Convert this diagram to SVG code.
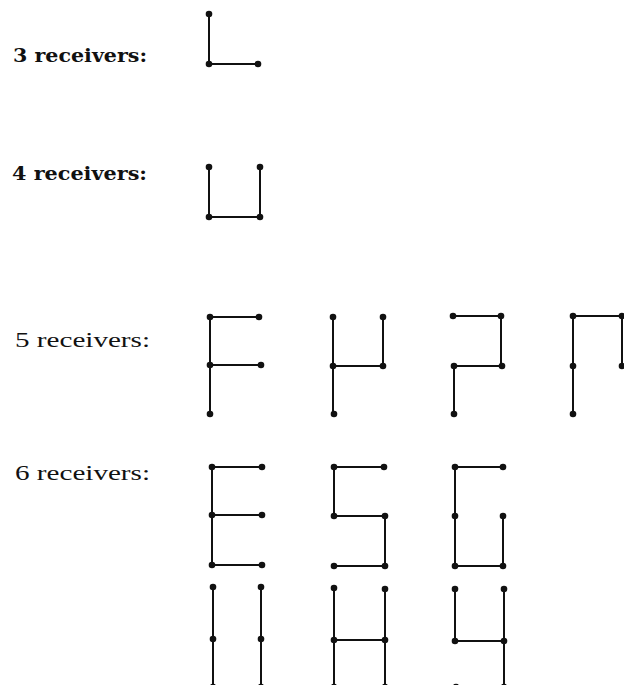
<svg xmlns="http://www.w3.org/2000/svg" width="624" height="685" viewBox="0 0 624 685">
<style>
.bg{fill:#fff}
.ln{fill:none;stroke:#111;stroke-width:2;stroke-linecap:round;stroke-linejoin:round}
.dot{fill:#111}
.lb{font-family:"DejaVu Serif","Liberation Serif",serif;font-weight:bold;font-size:19px;fill:#111}
.lr{font-family:"Liberation Serif","Times New Roman",serif;font-size:21px;fill:#111}
</style>
<defs>
<circle id="d" r="3.3" class="dot"/>
</defs>
<rect class="bg" x="0" y="0" width="624" height="685"/>
<g id="labels">
<text class="lb" x="13" y="62" textLength="134" lengthAdjust="spacingAndGlyphs">3 receivers:</text>
<text class="lb" x="12" y="180" textLength="135" lengthAdjust="spacingAndGlyphs">4 receivers:</text>
<text class="lr" x="15" y="347" textLength="135" lengthAdjust="spacingAndGlyphs">5 receivers:</text>
<text class="lr" x="15" y="480" textLength="135" lengthAdjust="spacingAndGlyphs">6 receivers:</text>
</g>
<g id="connectors">
<path class="ln" d="M209,14 V64 H258"/>
<path class="ln" d="M209,167 V217 H260 V167"/>
<path class="ln" d="M259,317 H210 V414 M210,365 H261"/>
<path class="ln" d="M333,317 V414 M333,366 H383 V317"/>
<path class="ln" d="M453,316 H501 V366 H454 V414"/>
<path class="ln" d="M573,414 V316 H622 V366"/>
<path class="ln" d="M262,467 H212 V565 H262 M212,515 H262"/>
<path class="ln" d="M384,467 H334 V516 H385 V566 H334"/>
<path class="ln" d="M503,467 H455 V566 H503 V519"/>
<path class="ln" d="M213,587 V687 M261,587 V687"/>
<path class="ln" d="M334,588 V687 M385,589 V687 M334,640 H385"/>
<path class="ln" d="M455,589 V641 H504 M504,589 V687"/>
</g>
<g id="fig3L"><use href="#d" x="209" y="14"/><use href="#d" x="209" y="64"/><use href="#d" x="258" y="64"/></g>
<g id="fig4U"><use href="#d" x="209" y="167"/><use href="#d" x="260" y="167"/><use href="#d" x="209" y="217"/><use href="#d" x="260" y="217"/></g>
<g id="fig5F"><use href="#d" x="210" y="317"/><use href="#d" x="259" y="317"/><use href="#d" x="210" y="365"/><use href="#d" x="261" y="365"/><use href="#d" x="210" y="414"/></g>
<g id="fig5h"><use href="#d" x="333" y="317"/><use href="#d" x="383" y="317"/><use href="#d" x="333" y="366"/><use href="#d" x="383" y="366"/><use href="#d" x="334" y="414"/></g>
<g id="fig5q"><use href="#d" x="453" y="316"/><use href="#d" x="501" y="316"/><use href="#d" x="454" y="366"/><use href="#d" x="502" y="366"/><use href="#d" x="454" y="414"/></g>
<g id="fig5n"><use href="#d" x="573" y="316"/><use href="#d" x="622" y="316"/><use href="#d" x="573" y="366"/><use href="#d" x="622" y="366"/><use href="#d" x="573" y="414"/></g>
<g id="fig6E"><use href="#d" x="212" y="467"/><use href="#d" x="262" y="467"/><use href="#d" x="212" y="515"/><use href="#d" x="262" y="515"/><use href="#d" x="212" y="565"/><use href="#d" x="262" y="565"/></g>
<g id="fig6S"><use href="#d" x="334" y="467"/><use href="#d" x="384" y="467"/><use href="#d" x="334" y="516"/><use href="#d" x="385" y="516"/><use href="#d" x="334" y="566"/><use href="#d" x="385" y="566"/></g>
<g id="fig6G"><use href="#d" x="455" y="467"/><use href="#d" x="503" y="467"/><use href="#d" x="455" y="516"/><use href="#d" x="503" y="516"/><use href="#d" x="455" y="566"/><use href="#d" x="503" y="566"/></g>
<g id="fig6II"><use href="#d" x="213" y="587"/><use href="#d" x="261" y="587"/><use href="#d" x="213" y="639"/><use href="#d" x="261" y="639"/><use href="#d" x="213" y="687"/><use href="#d" x="261" y="687"/></g>
<g id="fig6H"><use href="#d" x="334" y="588"/><use href="#d" x="385" y="589"/><use href="#d" x="334" y="640"/><use href="#d" x="385" y="640"/><use href="#d" x="334" y="687"/><use href="#d" x="385" y="687"/></g>
<g id="fig64"><use href="#d" x="455" y="589"/><use href="#d" x="504" y="589"/><use href="#d" x="455" y="641"/><use href="#d" x="504" y="641"/><use href="#d" x="456" y="687"/><use href="#d" x="504" y="687"/></g>
</svg>
